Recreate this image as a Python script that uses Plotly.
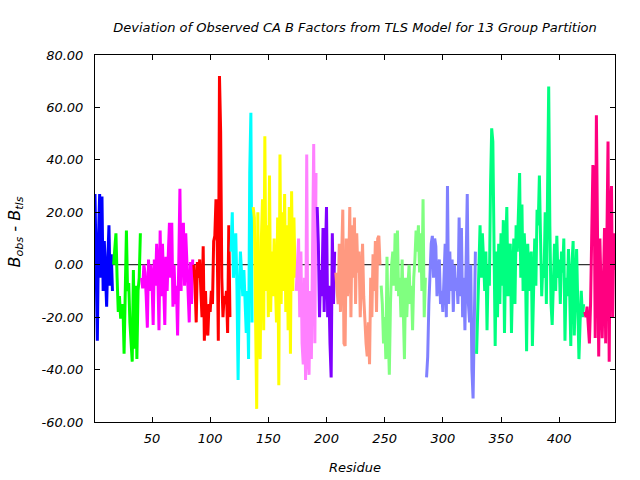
import plotly.graph_objects as go

# Group partition: (first residue, colour, values)
blue_vals = [27, -8, -29, 10, 27, -5, 26, -10, 9, -3, -16, 2, 15, -8, 4, -10]
green_vals = [0, 6, 12, -5, -18, -12, -20, -20, -15, -34, -2, 13, -10, -7, -22, -30,
              -37, -2, -32, -8, -36, -10, -5, 12]
magenta_vals = [-5, -9, 0, -3, -12, -24, 2, -10, 0, -6, -23, 2, -8, 8, -3, -25, 13, -12,
                8, -5, -23, 3, -10, 4, 16, -5, 16, -16, 0, -15, -8, -27, 5, 29, -10, 10,
                16, -8, 12, -3, -10, -22, 1, -15, 2]
red_vals = [0, -8, -22, 1, -5, 2, -10, -20, 7, -29, -10, -25, -27, -15, -18, -10, -15,
            9, 11, 25, 10, -29, 72, 51, -5, -20, -12, -15, -10, -26, 15, -20]
cyan_vals = [5, 20, -5, 2, 12, -8, -44, -10, 5, -3, -12, -2, -18, -26, -10, -36, 35, 58, -22]
yellow_vals = [22, 18, -20, -55, 20, -30, -36, 10, 25, -25, 49, -10, 15, -20, 34, -18, 5,
               -12, 10, -5, -22, 18, -46, 42, -15, 20, -10, 27, -18, 15, -25, 22, -34, 28,
               -10, 18, -5]
violet_vals = [-10, 2, 10, -20, 5, -30, -38, -5, -44, 42, -35, -42, -10, -36, 15, 46, -30, 35]
purple_vals = [22, 8, -20, -2, -12, 14, -18, 0, 22, -20, -8, -30, -43, 12, -15, 5]
salmon_vals = [-3, -8, -15, 8, -18, 3, 21, -30, -31, 10, -12, -5, 22, -20, 15, -5, 18, -15,
               12, -3, 5, -20, -8, 8, -12, -25, -30, -35, -22, -38, -5, -20, 4, -10, 9, -18,
               10, 11, 0]
lightgreen_vals = [-8, -15, -30, -20, -36, 3, -25, -42, -15, 0, 5, -8, 12, -10, 13, -12, -5,
                   -20, 2, -15, -36, -5, -20, -8, 0, -15, -8, -25, -5, 2, 13, 5, 15, -3, 12,
                   -10, 25, -20, -5]
periwinkle_vals = [-43, -35, -15, 0, 8, 11, -5, 10, 7, -12, -5, 2, -15, -10, -18, -8, 8,
                   -20, 30, -15, 5, -10, 2, -18, 0, -10, -5, -15, 18, -12, 14, -20, -5, -25,
                   10, 27, -15, -22, 0, -40, -51, -20, 5]
springgreen_vals = [-34, -20, -8, 15, -5, 12, 2, -10, 5, -25, 0, -8, 30, 52, 47, 10, -31, 5,
                    -20, 8, -15, 12, -8, 17, -26, 5, 22, -12, 5, 8, -26, -5, 10, -15, 15, 5,
                    25, 35, -5, 23, -10, 12, 0, -33, 8, -10, 2, 5, -31, -5, 10, -8, 21, 15,
                    34, 10, -12, 0, -5, 20, -15, 27, 68, 15, -15, -23, -5, 8, -10, 11, -5, 2,
                    -15, 5, -3, 10, -29, -5, -12, 6, -10, -31, 0, 9, -27, -8, 6, -15, -36,
                    -22, -10, -20, -15]
deeppink_vals = [-18, -20, -16, -25, -30, -15, 18, 38, 35, -28, 57, 20, -35, 10, -5, -28, -8,
                 14, -30, 0, 47, -37, 20, 30, -20, 12, -2]

groups = [
    (1, "#0000ff", blue_vals),
    (17, "#00ff00", green_vals),
    (41, "#ff00ff", magenta_vals),
    (86, "#ff0000", red_vals),
    (118, "#00ffff", cyan_vals),
    (137, "#ffff00", yellow_vals),
    (174, "#ff80ff", violet_vals),
    (192, "#8000ff", purple_vals),
    (208, "#ff9980", salmon_vals),
    (247, "#80ff80", lightgreen_vals),
    (286, "#8080ff", periwinkle_vals),
    (329, "#00ff80", springgreen_vals),
    (422, "#ff0080", deeppink_vals),
]

x_ticks = [50, 100, 150, 200, 250, 300, 350, 400]
y_ticks = [-60, -40, -20, 0, 20, 40, 60, 80]

fig = go.Figure()
# zero line
fig.add_trace(go.Scatter(x=[1, 448], y=[0, 0], mode="lines",
                         line=dict(color="black", width=1), showlegend=False,
                         hoverinfo="skip"))
for start, color, vals in groups:
    xs = list(range(start, start + len(vals)))
    fig.add_trace(go.Scatter(x=xs, y=vals, mode="lines",
                             line=dict(color=color, width=3), showlegend=False))

font = "DejaVu Sans"
fig.update_layout(
    width=640, height=480,
    margin=dict(l=95, r=25, t=55, b=58),
    plot_bgcolor="white", paper_bgcolor="white",
    font=dict(family=font, size=13, color="black"),
    title=dict(text="<i>Deviation of Observed CA B Factors from TLS Model for 13 Group Partition</i>",
               x=0.5547, xanchor="center", y=1 - 27 / 480, yanchor="middle",
               font=dict(family=font, size=13)),
    xaxis=dict(range=[1, 448], tickvals=x_ticks,
               ticktext=[f"<i>{v}</i>" for v in x_ticks],
               ticks="inside", ticklen=5, tickcolor="black", ticklabelstandoff=4,
               showline=True, linecolor="black", linewidth=1, mirror="allticks",
               showgrid=False, zeroline=False, tickfont=dict(size=13)),
    yaxis=dict(range=[-60, 80], tickvals=y_ticks,
               ticktext=[f"<i>{v:.2f}</i>" for v in y_ticks],
               ticks="inside", ticklen=5, tickcolor="black", ticklabelstandoff=8,
               showline=True, linecolor="black", linewidth=1, mirror="allticks",
               showgrid=False, zeroline=False, tickfont=dict(size=13)),
    annotations=[
        dict(text="<i>Residue</i>", xref="paper", yref="paper", x=0.5, y=0,
             yshift=-45, xanchor="center", yanchor="middle", showarrow=False,
             font=dict(size=13)),
        dict(text="<i>B</i><sub><i>obs</i></sub><i> - B</i><sub><i>tls</i></sub>",
             xref="paper", yref="paper", x=0, y=0.5, xshift=-80, yshift=6,
             textangle=-90, xanchor="center", yanchor="middle", showarrow=False,
             font=dict(size=16)),
    ],
)

fig.write_html("out.html", config={"displayModeBar": False},
               post_script="document.body.style.margin='0';")
